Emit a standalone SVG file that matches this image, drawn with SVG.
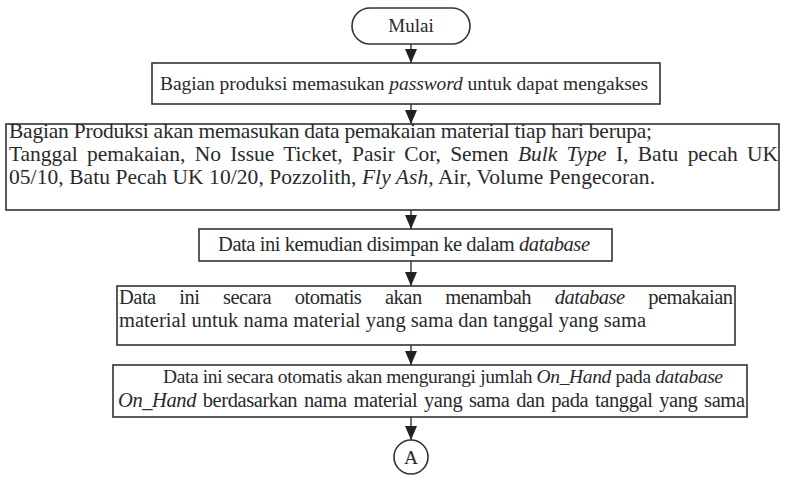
<svg xmlns="http://www.w3.org/2000/svg" width="785" height="487" viewBox="0 0 785 487">
  <style>
    .box { fill: #fff; stroke: #333; stroke-width: 1.6; }
    .t { font-family: "Liberation Serif", "Times New Roman", serif; font-size: 19.5px; fill: #2a2a2a; }
    .i { font-style: italic; }
    .flow { stroke: #333; stroke-width: 1.4; fill: none; marker-end: url(#arrow); }
  </style>
  <defs>
    <!-- solid arrowhead pointing along the line direction -->
    <marker id="arrow" viewBox="0 0 14 12" refX="14" refY="6" markerWidth="14" markerHeight="12" markerUnits="userSpaceOnUse" orient="auto">
      <path d="M0,0 L14,6 L0,12 Z" fill="#222"/>
    </marker>
  </defs>

  <rect width="785" height="487" fill="#fff"/>

  <g id="connectors">
    <path class="flow" d="M411,44 V63"/>
    <path class="flow" d="M411,104 V124"/>
    <path class="flow" d="M411,210 V229"/>
    <path class="flow" d="M411,261 V286"/>
    <path class="flow" d="M411,345 V365"/>
    <path class="flow" d="M411,417 V440"/>
  </g>

  <g id="start">
    <rect class="box" x="352" y="8" width="118" height="36" rx="18" ry="18"/>
    <text class="t" x="411" y="32" text-anchor="middle" style="font-size:19px">Mulai</text>
  </g>

  <g id="login">
    <rect class="box" x="152" y="63" width="508" height="41"/>
    <text class="t" x="160" y="90" textLength="488" lengthAdjust="spacing">Bagian produksi memasukan <tspan class="i">password</tspan> untuk dapat mengakses</text>
  </g>

  <g id="input-usage">
    <rect class="box" x="6" y="124" width="773" height="86"/>
    <text class="t" x="9" y="138" style="font-size:21.5px" textLength="643" lengthAdjust="spacing">Bagian Produksi akan memasukan data pemakaian material tiap hari berupa;</text>
    <text class="t" x="9" y="161" style="font-size:21.5px;word-spacing:4px" textLength="769" lengthAdjust="spacing">Tanggal pemakaian, No Issue Ticket, Pasir Cor, Semen <tspan class="i">Bulk Type</tspan> I, Batu pecah UK</text>
    <text class="t" x="9" y="184" style="font-size:21.5px" textLength="646" lengthAdjust="spacing">05/10, Batu Pecah UK 10/20, Pozzolith, <tspan class="i">Fly Ash</tspan>, Air, Volume Pengecoran.</text>
  </g>

  <g id="save">
    <rect class="box" x="199" y="229" width="413" height="32"/>
    <text class="t" x="218" y="251" style="font-size:20.5px" textLength="372" lengthAdjust="spacing">Data ini kemudian disimpan ke dalam <tspan class="i">database</tspan></text>
  </g>

  <g id="add-usage">
    <rect class="box" x="117" y="286" width="618" height="59"/>
    <text class="t" x="119" y="304" style="font-size:20.5px;word-spacing:19px" textLength="614" lengthAdjust="spacing">Data ini secara otomatis akan menambah <tspan class="i">database</tspan> pemakaian</text>
    <text class="t" x="119" y="327" style="font-size:20.5px" textLength="527" lengthAdjust="spacing">material untuk nama material yang sama dan tanggal yang sama</text>
  </g>

  <g id="reduce-stock">
    <rect class="box" x="113" y="365" width="634" height="52"/>
    <text class="t" x="163" y="383" style="font-size:19.5px" textLength="560" lengthAdjust="spacing">Data ini secara otomatis akan mengurangi jumlah <tspan class="i">On_Hand</tspan> pada <tspan class="i">database</tspan></text>
    <text class="t" x="118" y="407" style="font-size:20.5px;word-spacing:2px" textLength="627" lengthAdjust="spacing"><tspan class="i">On_Hand</tspan> berdasarkan nama material yang sama dan pada tanggal yang sama</text>
  </g>

  <g id="connector-a">
    <circle class="box" cx="411" cy="457" r="17"/>
    <text class="t" x="411" y="464" text-anchor="middle">A</text>
  </g>
</svg>
